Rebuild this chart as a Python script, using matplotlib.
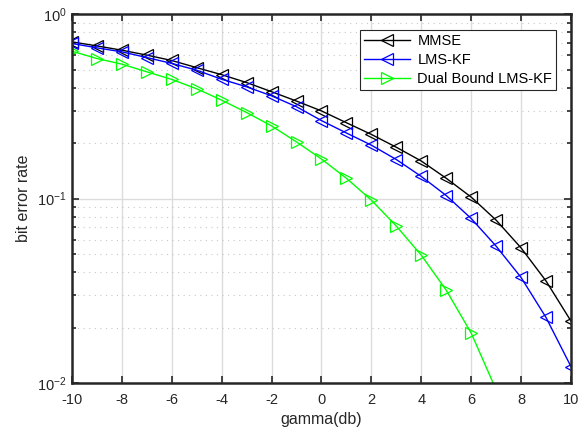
import numpy as np
import matplotlib
matplotlib.use("Agg")
import matplotlib.pyplot as plt
from matplotlib.ticker import LogLocator, NullFormatter, MultipleLocator

plt.rcParams['font.family'] = ['Liberation Sans', 'DejaVu Sans']
plt.rcParams['mathtext.fontset'] = 'custom'
plt.rcParams['mathtext.rm'] = 'Liberation Sans'
plt.rcParams['axes.unicode_minus'] = False

gamma_db = list(range(-10, 11))
ber_mmse = [0.708, 0.673, 0.638, 0.600, 0.561, 0.513, 0.470, 0.426, 0.380, 0.338,
            0.299, 0.258, 0.223, 0.190, 0.160, 0.129, 0.102, 0.0765, 0.0541,
            0.0358, 0.0217]
ber_lmskf = [0.694, 0.657, 0.625, 0.582, 0.541, 0.497, 0.444, 0.404, 0.361, 0.315,
             0.265, 0.227, 0.195, 0.163, 0.132, 0.104, 0.0781, 0.0553, 0.0374,
             0.0227, 0.0123]
gamma_dual = list(range(-10, 8))
ber_dual = [0.630, 0.575, 0.536, 0.487, 0.443, 0.394, 0.342, 0.293, 0.248, 0.203,
            0.164, 0.129, 0.0982, 0.0710, 0.0494, 0.0319, 0.0187, 0.0092]

dark = '#262626'
fig = plt.figure(figsize=(5.85, 4.30), dpi=100)
ax = fig.add_axes([0.123, 0.109, 0.853, 0.858])

ax.plot(gamma_db, ber_mmse, color='k', lw=1.0, marker='<', ms=8,
        mfc='none', mew=0.9, label='MMSE')
ax.plot(gamma_db, ber_lmskf, color='#0000ff', lw=1.0, marker='<', ms=8,
        mfc='none', mew=0.9, label='LMS-KF')
ax.plot(gamma_dual, ber_dual, color='#00ff00', lw=1.0, marker='>', ms=8,
        mfc='none', mew=0.9, label='Dual Bound LMS-KF')

ax.set_yscale('log')
ax.set_xlim(-10, 10)
ax.set_ylim(1e-2, 1)
ax.xaxis.set_major_locator(MultipleLocator(2))
ax.yaxis.set_major_locator(LogLocator(base=10, numticks=10))
ax.yaxis.set_minor_locator(LogLocator(base=10, subs=np.arange(2, 10), numticks=20))
ax.yaxis.set_minor_formatter(NullFormatter())

ax.grid(True, which='major', color='#dcdcdc', lw=1.0, ls='-')
ax.grid(True, which='minor', axis='y', color='#c8c8c8', lw=0.8, ls=(0, (1, 4)))
ax.set_axisbelow(True)

ax.tick_params(which='both', direction='in', top=True, right=True,
               colors=dark, labelsize=10.5, width=1.2)
ax.tick_params(which='major', length=5)
ax.tick_params(which='minor', length=3)
ax.tick_params(axis='x', pad=7)
ax.tick_params(axis='y', pad=4)
for s in ax.spines.values():
    s.set_color(dark)
    s.set_linewidth(1.8)

ax.set_xlabel('gamma(db)', fontsize=11.5, color=dark, labelpad=4)
ax.set_ylabel('bit error rate', fontsize=11.5, color=dark, labelpad=4)

leg = ax.legend(loc='upper right', bbox_to_anchor=(0.970, 0.957), fontsize=10.5,
                frameon=True, fancybox=False, edgecolor=dark, framealpha=1,
                borderpad=0.25, labelspacing=0.35, handlelength=3.2,
                handletextpad=0.5, borderaxespad=0)
leg.get_frame().set_linewidth(0.8)

fig.savefig('out.png', dpi=100)
